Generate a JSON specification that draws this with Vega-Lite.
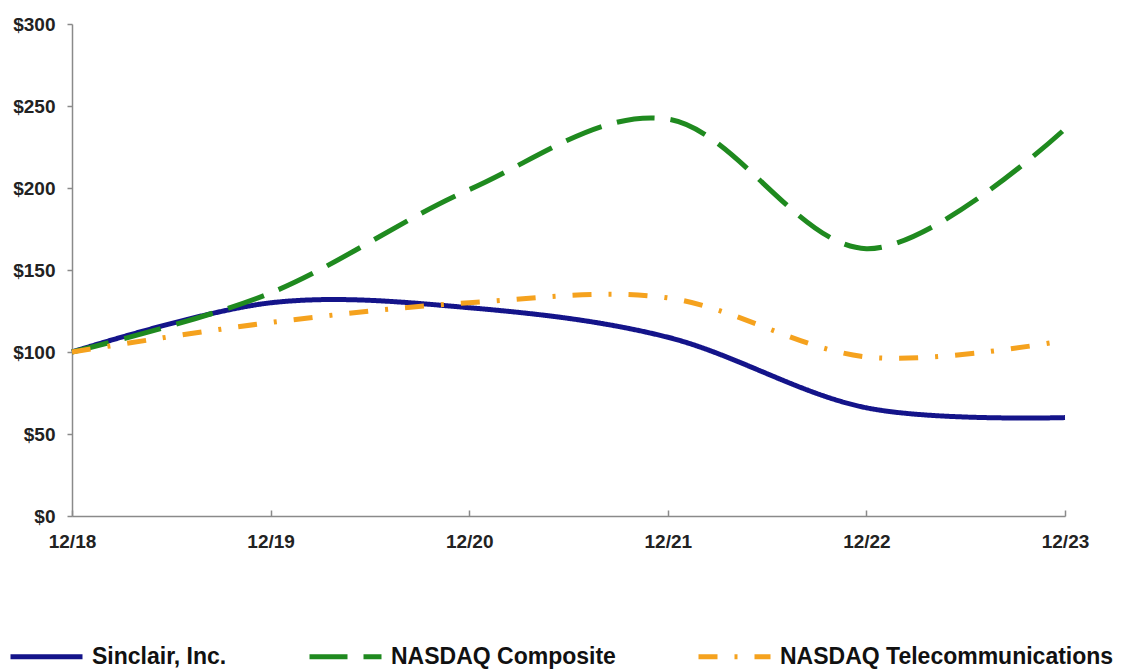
{
  "$schema": "https://vega.github.io/schema/vega-lite/v6.json",
  "width": 993,
  "height": 492,
  "autosize": {"type": "none"},
  "padding": {"left": 72, "top": 24, "right": 57, "bottom": 155},
  "background": "white",
  "config": {"view": {"stroke": null}, "font": "Liberation Sans"},
  "data": {
    "values": [
      {"date": "12/18", "series": "Sinclair, Inc.", "value": 100},
      {"date": "12/19", "series": "Sinclair, Inc.", "value": 130},
      {"date": "12/20", "series": "Sinclair, Inc.", "value": 127},
      {"date": "12/21", "series": "Sinclair, Inc.", "value": 109},
      {"date": "12/22", "series": "Sinclair, Inc.", "value": 66},
      {"date": "12/23", "series": "Sinclair, Inc.", "value": 60},
      {"date": "12/18", "series": "NASDAQ Composite", "value": 100},
      {"date": "12/19", "series": "NASDAQ Composite", "value": 136},
      {"date": "12/20", "series": "NASDAQ Composite", "value": 199},
      {"date": "12/21", "series": "NASDAQ Composite", "value": 242},
      {"date": "12/22", "series": "NASDAQ Composite", "value": 163},
      {"date": "12/23", "series": "NASDAQ Composite", "value": 236},
      {"date": "12/18", "series": "NASDAQ Telecommunications", "value": 100},
      {"date": "12/19", "series": "NASDAQ Telecommunications", "value": 118},
      {"date": "12/20", "series": "NASDAQ Telecommunications", "value": 130},
      {"date": "12/21", "series": "NASDAQ Telecommunications", "value": 133},
      {"date": "12/22", "series": "NASDAQ Telecommunications", "value": 97},
      {"date": "12/23", "series": "NASDAQ Telecommunications", "value": 107}
    ]
  },
  "mark": {"type": "line", "interpolate": "cardinal", "strokeWidth": 5, "strokeCap": "butt"},
  "encoding": {
    "x": {
      "field": "date",
      "type": "ordinal",
      "scale": {"type": "point", "padding": 0},
      "axis": {
        "title": null,
        "labelAngle": 0,
        "labelFont": "Liberation Sans",
        "labelFontWeight": "bold",
        "labelFontSize": 19,
        "labelColor": "#222222",
        "labelPadding": 22,
        "domainColor": "#8a8a8a",
        "domainWidth": 1.5,
        "tickColor": "#8a8a8a",
        "tickWidth": 1.5,
        "tickSize": -6,
        "grid": false
      }
    },
    "y": {
      "field": "value",
      "type": "quantitative",
      "scale": {"domain": [0, 300], "nice": false},
      "axis": {
        "title": null,
        "values": [0, 50, 100, 150, 200, 250, 300],
        "labelExpr": "'$' + datum.value",
        "labelFont": "Liberation Sans",
        "labelFontWeight": "bold",
        "labelFontSize": 19,
        "labelColor": "#222222",
        "labelPadding": 12,
        "domainColor": "#8a8a8a",
        "domainWidth": 1.5,
        "tickColor": "#8a8a8a",
        "tickWidth": 1.5,
        "tickSize": 5,
        "grid": false
      }
    },
    "color": {
      "field": "series",
      "type": "nominal",
      "scale": {
        "domain": ["Sinclair, Inc.", "NASDAQ Composite", "NASDAQ Telecommunications"],
        "range": ["#14148a", "#1f8a1f", "#f5a21e"]
      },
      "legend": {
        "title": null,
        "orient": "none",
        "legendX": -64,
        "legendY": 594,
        "direction": "horizontal",
        "symbolType": "stroke",
        "symbolSize": 5184,
        "symbolStrokeWidth": 5,
        "labelFont": "Liberation Sans",
        "labelFontWeight": "bold",
        "labelFontSize": 23,
        "labelColor": "#111111",
        "labelOffset": 7,
        "columnPadding": 72,
        "labelLimit": 500
      }
    },
    "strokeDash": {
      "field": "series",
      "type": "nominal",
      "scale": {
        "domain": ["Sinclair, Inc.", "NASDAQ Composite", "NASDAQ Telecommunications"],
        "range": [[1, 0], [38, 16], [19, 17, 3, 17]]
      },
      "legend": {
        "title": null,
        "orient": "none",
        "legendX": -64,
        "legendY": 594,
        "direction": "horizontal",
        "symbolType": "stroke",
        "symbolSize": 5184,
        "symbolStrokeWidth": 5,
        "labelFont": "Liberation Sans",
        "labelFontWeight": "bold",
        "labelFontSize": 23,
        "labelColor": "#111111",
        "labelOffset": 7,
        "columnPadding": 72,
        "labelLimit": 500
      }
    }
  }
}
